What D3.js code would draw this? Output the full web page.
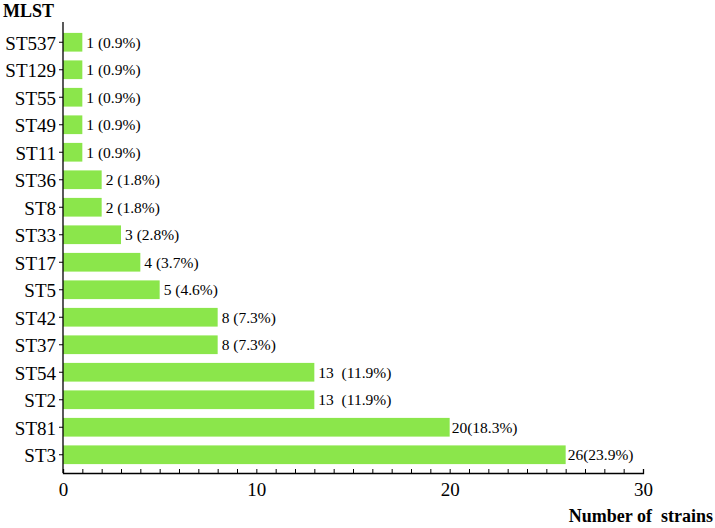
<!doctype html>
<html lang="en">
<head>
  <meta charset="utf-8">
  <title>MLST</title>
  <script src="https://d3js.org/d3.v7.min.js"></script>
  <style>
    body { margin: 0; background: #fff; }
  </style>
</head>
<body>
  <div id="chart"></div>
  <script type="text/javascript">

    var width = 715, height = 528;
    var serif = '"Liberation Serif", "Times New Roman", Tinos, "DejaVu Serif", serif';

    // sequence types, top to bottom
    var types = ['ST537','ST129','ST55','ST49','ST11','ST36','ST8','ST33',
                 'ST17','ST5','ST42','ST37','ST54','ST2','ST81','ST3'];
    var counts = [1,1,1,1,1,2,2,3,4,5,8,8,13,13,20,26];
    var labels = ['1 (0.9%)','1 (0.9%)','1 (0.9%)','1 (0.9%)','1 (0.9%)',
                  '2 (1.8%)','2 (1.8%)','3 (2.8%)','4 (3.7%)','5 (4.6%)',
                  '8 (7.3%)','8 (7.3%)','13\u00a0 (11.9%)','13\u00a0 (11.9%)',
                  '20(18.3%)','26(23.9%)'];
    var xTicks = [0,10,20,30];

    var svg = d3.select('#chart')
                .append('svg')
                .attr('width', width)
                .attr('height', height)
                .style('font-family', serif);

    var x = d3.scaleLinear()
              .domain([0,30])
              .range([63,643]);

    var y = d3.scaleBand()
              .domain(types)
              .range([28.5,468.5])
              .paddingInner(0.32)
              .paddingOuter(0.16);

    // bars
    svg.selectAll('.bar')
       .data(types)
       .enter()
       .append('rect')
       .attr('class','bar')
       .attr('x', x(0))
       .attr('y', function(d) { return y(d); })
       .attr('width', function(d,i) { return x(counts[i]) - x(0); })
       .attr('height', y.bandwidth())
       .attr('fill','#8BE64B');

    // value labels
    svg.selectAll('.val')
       .data(types)
       .enter()
       .append('text')
       .attr('class','val')
       .attr('x', function(d,i) { return x(counts[i]) + (counts[i] > 15 ? 2 : 4); })
       .attr('y', function(d) { return y(d) + y.bandwidth()/2; })
       .attr('dy','0.36em')
       .style('font-family', serif)
       .style('font-size','15.5px')
       .text(function(d,i) { return labels[i]; });

    // y axis
    var yAxis = d3.axisLeft(y).tickSize(4).tickPadding(3);
    var gy = svg.append('g')
                .attr('transform','translate(' + x(0) + ',0)')
                .call(yAxis);
    gy.select('.domain').remove();
    gy.selectAll('text').style('font-family', serif).style('font-size','19px').attr('fill','#000').attr('dy','0.4em');
    gy.selectAll('line').attr('stroke','#000');
    svg.append('line')
       .attr('x1', x(0)).attr('x2', x(0))
       .attr('y1', 22).attr('y2', 473)
       .attr('stroke','#000').attr('stroke-width',1.3);

    // x axis: minor ticks every unit, labels every ten
    var gx = svg.append('g').attr('transform','translate(0,473)');
    gx.call(d3.axisBottom(x).tickValues(d3.range(0,31,1)).tickSize(-4).tickFormat(''));
    gx.select('.domain').attr('stroke','#000').attr('stroke-width',1.3);
    gx.selectAll('line').attr('stroke','#000');

    var gx2 = svg.append('g').attr('transform','translate(0,473)');
    gx2.call(d3.axisBottom(x).tickValues(xTicks).tickSize(0).tickPadding(10));
    gx2.select('.domain').remove();
    gx2.selectAll('text').style('font-family', serif).style('font-size','19px').attr('fill','#000');

    // titles
    svg.append('text')
       .attr('x', 3).attr('y', 17)
       .style('font-family', serif)
       .style('font-size','18px').style('font-weight','bold')
       .text('MLST');

    svg.append('text')
       .attr('x', 713).attr('y', 522)
       .attr('text-anchor','end')
       .style('font-family', serif)
       .style('font-size','18px').style('font-weight','bold')
       .style('white-space','pre')
       .text('Number of  strains');

  </script>
</body>
</html>
